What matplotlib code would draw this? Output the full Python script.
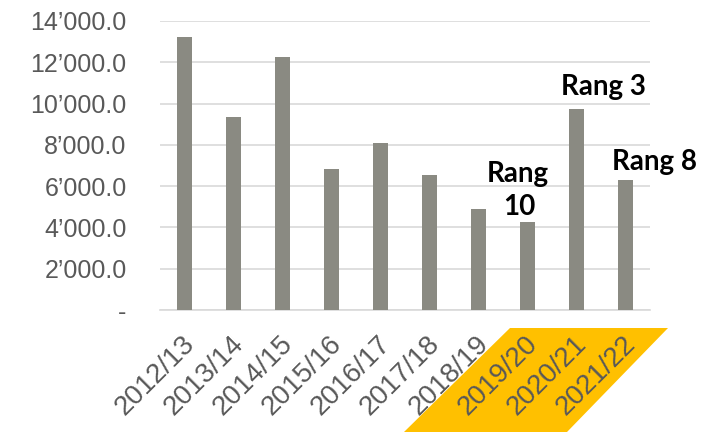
import matplotlib.pyplot as plt
from matplotlib.patches import Polygon
from matplotlib.ticker import FuncFormatter
from matplotlib.transforms import ScaledTranslation

seasons = ['2012/13', '2013/14', '2014/15', '2015/16', '2016/17',
           '2017/18', '2018/19', '2019/20', '2020/21', '2021/22']
values = [13210, 9330, 12260, 6830, 8090, 6530, 4900, 4280, 9720, 6280]

W, H = 704, 432
fig = plt.figure(figsize=(W / 100, H / 100), dpi=100)
ax = fig.add_axes([160 / W, 1 - 310 / H, 490 / W, 289 / H])

# yellow band behind the last three season labels (figure pixels)
band = Polygon([(404, 0), (510, H - 328), (668, H - 328), (567, 0)],
               closed=True, transform=None, facecolor='#ffc000',
               edgecolor='none', zorder=0.5, clip_on=False)
ax.add_patch(band)

x = range(len(seasons))
ax.bar(x, values, width=0.32, color='#8a8a82', zorder=3)

ax.set_xlim(-0.5, len(seasons) - 0.5)
ax.set_ylim(0, 14000)
ax.set_yticks(range(0, 14001, 2000))


def fmt(v, pos):
    if v == 0:
        return '-'
    return '{:,.1f}'.format(v).replace(',', '\u2019')


ax.yaxis.set_major_formatter(FuncFormatter(fmt))
ax.grid(axis='y', color='#d9d9d9', linewidth=1.2, zorder=1)
ax.set_axisbelow(True)
for s in ['top', 'right', 'left']:
    ax.spines[s].set_visible(False)
ax.spines['bottom'].set_color('#d9d9d9')
ax.spines['bottom'].set_linewidth(1.2)

ax.tick_params(axis='y', length=0, pad=24, labelsize=18, labelcolor='#595959')
ax.tick_params(axis='x', length=0, pad=15, labelsize=20, labelcolor='#595959')
ax.set_xticks(list(x))
ax.set_xticklabels(seasons, rotation=45, ha='right', va='top',
                   rotation_mode='anchor')
shift = ScaledTranslation(-2 / 72, 0, fig.dpi_scale_trans)
for lab in ax.get_xticklabels():
    lab.set_transform(lab.get_transform() + shift)
for lab in ax.get_yticklabels() + ax.get_xticklabels():
    lab.set_family('Liberation Sans')

tf = dict(fontsize=20, color='black', family='Lato', fontweight='bold',
          ha='center', va='baseline')
ax.text(6.8, 6200, 'Rang', **tf)
ax.text(6.83, 4600, '10', **tf)
ax.text(8.54, 10420, 'Rang 3', **tf)
ax.text(9.6, 6780, 'Rang 8', **tf)

fig.savefig('out.png', dpi=100)
